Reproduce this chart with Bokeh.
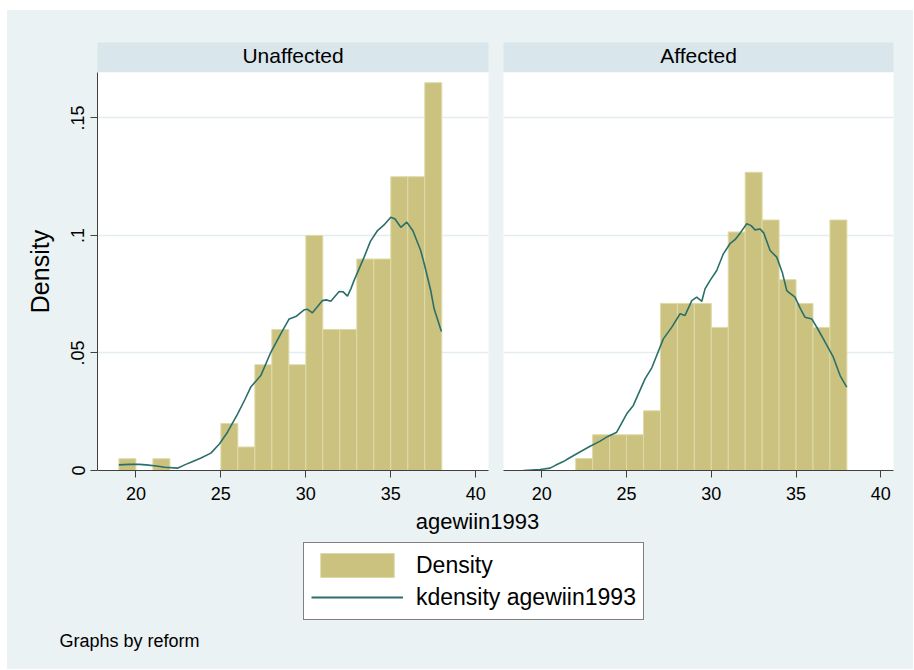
from bokeh.plotting import figure
from bokeh.layouts import row, column
from bokeh.models import (Range1d, FixedTicker, Label, Legend, LegendItem, Grid,
                          ColumnDataSource)
from bokeh.embed import file_html
from bokeh.resources import INLINE

# ---------------- data ----------------
bin_left = list(range(19, 38))          # bins of width 1, from 19 to 38
bin_width = 1

unaffected_density = [0.005, 0.0, 0.005, 0.0, 0.0, 0.0, 0.020, 0.010, 0.045, 0.060,
                      0.045, 0.100, 0.060, 0.060, 0.090, 0.090, 0.125, 0.125, 0.165]
affected_density = [0.0, 0.0, 0.0, 0.0051, 0.0152, 0.0152, 0.0152, 0.0254, 0.0711, 0.0711,
                    0.0711, 0.0609, 0.1015, 0.1269, 0.1066, 0.0812, 0.0711, 0.0609, 0.1066]

unaffected_kde_x = [19.0, 19.6, 20.2, 20.6, 21.2, 21.7, 22.45, 22.9, 23.24, 23.8, 24.41,
                    24.9, 25.39, 25.98, 26.4, 26.76, 27.35, 27.94, 28.53, 29.02, 29.41,
                    29.9, 30.1, 30.39, 30.98, 31.2, 31.47, 31.96, 32.2, 32.45, 32.65,
                    32.84, 33.43, 33.8, 34.22, 34.6, 35.0, 35.25, 35.59, 35.94, 36.3,
                    36.76, 37.0, 37.35, 37.55, 37.98]
unaffected_kde_y = [0.0024, 0.0026, 0.0026, 0.0024, 0.0019, 0.0014, 0.0010, 0.0025, 0.0035,
                    0.0052, 0.0074, 0.0112, 0.0163, 0.0240, 0.0300, 0.0355, 0.0404, 0.0503,
                    0.0582, 0.0645, 0.0655, 0.0684, 0.0686, 0.0671, 0.0723, 0.0726, 0.0720,
                    0.0762, 0.0760, 0.0742, 0.0773, 0.0809, 0.0908, 0.0975, 0.1021, 0.1045,
                    0.1078, 0.1070, 0.1035, 0.1057, 0.1020, 0.0936, 0.0870, 0.0766, 0.0688,
                    0.0592]

affected_kde_x = [18.91, 19.4, 19.9, 20.49, 20.8, 21.27, 21.6, 22.06, 22.85, 23.44, 23.9,
                  24.42, 25.01, 25.4, 26.09, 26.49, 27.17, 27.67, 28.16, 28.45, 28.85,
                  29.14, 29.44, 29.63, 29.93, 30.32, 30.71, 31.1, 31.4, 31.7, 32.09, 32.35,
                  32.58, 32.88, 33.1, 33.47, 33.86, 34.2, 34.45, 34.55, 34.94, 35.25, 35.53,
                  35.93, 36.3, 36.61, 37.2, 37.6, 37.99]
affected_kde_y = [0.0, 0.0002, 0.0004, 0.0010, 0.0022, 0.0038, 0.0052, 0.0071, 0.0103, 0.0125,
                  0.0145, 0.0163, 0.0241, 0.0277, 0.0390, 0.0437, 0.0560, 0.0610, 0.0667,
                  0.0660, 0.0723, 0.0738, 0.0720, 0.0773, 0.0809, 0.0851, 0.0922, 0.0965,
                  0.0982, 0.1010, 0.1050, 0.1042, 0.1024, 0.1028, 0.1010, 0.0936, 0.0908,
                  0.0840, 0.0766, 0.0759, 0.0738, 0.0690, 0.0652, 0.0645, 0.0600, 0.0560,
                  0.0482, 0.0404, 0.0355]

panel_titles = ["Unaffected", "Affected"]
x_ticks = [20, 25, 30, 35, 40]
y_ticks = [0, 0.05, 0.1, 0.15]
y_tick_labels = ["0", ".05", ".1", ".15"]
x_title = "agewiin1993"
y_title = "Density"
legend_labels = ["Density", "kdensity agewiin1993"]
note = "Graphs by reform"

# ---------------- styles ----------------
BG = "#EAF2F3"
STRIP = "#D9E6EB"
BAR = "#CAC27E"
BAR_LINE = "#DEDAA8"
KDE = "#2A6F6A"
GRID = "#E3EDEF"
AXIS = "#404040"
FONT = "Liberation Sans"

X_START, X_END = 17.74, 40.75
Y_TOP = 0.16936        # top of plotting area

STRIP_TOP_B = 32
STRIP_H = 30
PLOT_H = 398
PLOT_BOT_B = 38
LEFT_W, RIGHT_W = 489, 417
LEFT_B = (90, 7)
RIGHT_B = (8, 20)


def base_fig(width, height, lb, rb, tb, bb, xr, yr, frame_color, **kw):
    p = figure(width=width, height=height, title=None, x_range=xr, y_range=yr,
               output_backend="svg", toolbar_location=None,
               min_border_left=lb, min_border_right=rb,
               min_border_top=tb, min_border_bottom=bb,
               background_fill_color=frame_color, border_fill_color=BG,
               outline_line_color=None, **kw)
    p.center = [c for c in p.center if not isinstance(c, Grid)]
    return p


def make_strip(title, width, lb, rb):
    s = base_fig(width, STRIP_TOP_B + STRIP_H, lb, rb, STRIP_TOP_B, 0,
                 Range1d(0, 1), Range1d(0, 1), STRIP,
                 x_axis_location=None, y_axis_location=None)
    s.add_layout(Label(x=(width - lb - rb) / 2, y=STRIP_H / 2 + 2,
                       x_units="screen", y_units="screen", text=title,
                       text_align="center", text_baseline="middle",
                       text_font=FONT, text_font_size="21px", text_color="black"))
    return s


def make_panel(dens, kx, ky, width, lb, rb, show_y):
    p = base_fig(width, PLOT_H + PLOT_BOT_B, lb, rb, 0, PLOT_BOT_B,
                 Range1d(X_START, X_END), Range1d(0, Y_TOP), "white",
                 x_axis_location="below", y_axis_location="left" if show_y else None)
    p.add_layout(Grid(dimension=1, ticker=FixedTicker(ticks=y_ticks),
                      grid_line_color=GRID, grid_line_width=1.5))

    lefts = [b for b, d in zip(bin_left, dens) if d > 0]
    tops = [d for d in dens if d > 0]
    src = ColumnDataSource(dict(left=lefts, right=[b + bin_width for b in lefts], top=tops))
    p.quad(left="left", right="right", bottom=0, top="top", source=src,
           fill_color=BAR, line_color=BAR_LINE, line_width=1)
    ksrc = ColumnDataSource(dict(x=kx, y=ky))
    p.line("x", "y", source=ksrc, line_color=KDE, line_width=1.6)

    ax = p.xaxis[0]
    ax.ticker = FixedTicker(ticks=x_ticks)
    ax.major_label_text_font = FONT
    ax.major_label_text_font_size = "18px"
    ax.major_label_text_color = "black"
    ax.major_tick_out = 7
    ax.major_tick_in = 0
    ax.minor_tick_out = 0
    ax.minor_tick_in = 0
    ax.axis_line_color = AXIS
    ax.major_tick_line_color = AXIS
    ax.major_label_standoff = 9

    if show_y:
        ay = p.yaxis[0]
        ay.ticker = FixedTicker(ticks=y_ticks)
        ay.major_label_overrides = {t: s for t, s in zip(y_ticks, y_tick_labels)}
        ay.major_label_orientation = "vertical"
        ay.major_label_text_font = FONT
        ay.major_label_text_font_size = "18px"
        ay.major_label_text_color = "black"
        ay.major_tick_out = 7
        ay.major_tick_in = 0
        ay.minor_tick_out = 0
        ay.minor_tick_in = 0
        ay.axis_line_color = AXIS
        ay.major_tick_line_color = AXIS
        ay.major_label_standoff = 6
        ay.axis_label = y_title
        ay.axis_label_text_font = FONT
        ay.axis_label_text_font_size = "25px"
        ay.axis_label_text_font_style = "normal"
        ay.axis_label_text_color = "black"
        ay.axis_label_standoff = 15
    return p, src, ksrc


strip_l = make_strip(panel_titles[0], LEFT_W, LEFT_B[0], RIGHT_B[0])
strip_r = make_strip(panel_titles[1], RIGHT_W, LEFT_B[1], RIGHT_B[1])
left, src_bar, src_kde = make_panel(unaffected_density, unaffected_kde_x, unaffected_kde_y,
                                    LEFT_W, LEFT_B[0], RIGHT_B[0], True)
right, _, _ = make_panel(affected_density, affected_kde_x, affected_kde_y,
                         RIGHT_W, LEFT_B[1], RIGHT_B[1], False)

# bottom area: x title, legend, note
BOT_H = 161
b = base_fig(LEFT_W + RIGHT_W, BOT_H, 0, 0, 0, 0, Range1d(0, 1), Range1d(0, 1), BG,
             x_axis_location=None, y_axis_location=None)
b.add_layout(Label(x=470, y=148, x_units="screen", y_units="screen", text=x_title,
                   text_align="center", text_baseline="middle",
                   text_font=FONT, text_font_size="22px", text_color="black"))
b.add_layout(Label(x=52, y=29, x_units="screen", y_units="screen", text=note,
                   text_align="left", text_baseline="middle",
                   text_font=FONT, text_font_size="18px", text_color="black"))

# legend renderers share the panel data but are not drawn in this strip
r_bar = b.quad(left="left", right="right", bottom=0, top="top", source=src_bar,
               fill_color=BAR, line_color=BAR_LINE, visible=False)
r_line = b.line("x", "y", source=src_kde, line_color=KDE, line_width=2, visible=False)
legend = Legend(items=[LegendItem(label=legend_labels[0], renderers=[r_bar]),
                       LegendItem(label=legend_labels[1], renderers=[r_line])],
                location=(296, 49), orientation="vertical",
                border_line_color="black", border_line_width=1,
                background_fill_color="white", background_fill_alpha=1.0,
                label_text_font=FONT, label_text_font_size="23px",
                label_text_color="black",
                glyph_width=92, glyph_height=30, label_height=30,
                label_standoff=13, spacing=2, padding=7, margin=0,
                inactive_fill_alpha=0.0, click_policy="none")
b.add_layout(legend, "center")

layout = column(row(strip_l, strip_r, spacing=0, styles={"background-color": BG}),
                row(left, right, spacing=0, styles={"background-color": BG}),
                b, spacing=0, margin=(10, 1, 1, 7), styles={"background-color": BG})

open("out.html", "w").write(file_html(layout, INLINE))
